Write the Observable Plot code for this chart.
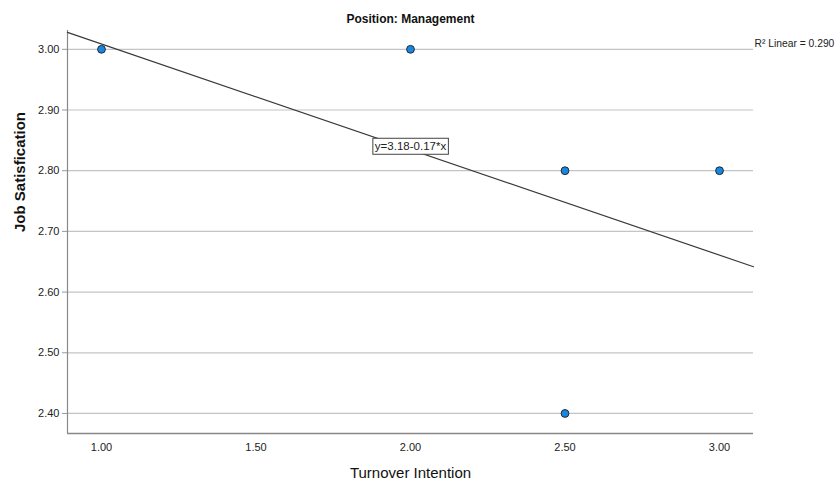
<!DOCTYPE html>
<html>
<head>
<meta charset="utf-8">
<script src="https://cdn.jsdelivr.net/npm/d3@7"></script>
<script src="https://cdn.jsdelivr.net/npm/@observablehq/plot@0.6"></script>
<style>
  html, body { margin: 0; padding: 0; background: #fff; }
  svg { font-family: "Liberation Sans", Arial, sans-serif; }
</style>
</head>
<body>
<div id="chart"></div>
<script>
// Data
const turnover = [1.0, 2.0, 2.5, 2.5, 3.0];
const satisfaction = [3.0, 3.0, 2.8, 2.4, 2.8];
const xTicks = [1.0, 1.5, 2.0, 2.5, 3.0];
const yTicks = [2.4, 2.5, 2.6, 2.7, 2.8, 2.9, 3.0];
const xDomain = [0.89, 3.11];
const yDomain = [2.367, 3.031];
const titleText = "Position: Management";
const xLabel = "Turnover Intention";
const yLabel = "Job Satisfication";

const points = turnover.map((x, i) => ({x, y: satisfaction[i]}));

// least squares fit
const mx = d3.mean(turnover), my = d3.mean(satisfaction);
const sxy = d3.sum(points, d => (d.x - mx) * (d.y - my));
const sxx = d3.sum(points, d => (d.x - mx) ** 2);
const syy = d3.sum(points, d => (d.y - my) ** 2);
const slope = sxy / sxx;
const intercept = my - slope * mx;
const r2 = (sxy * sxy) / (sxx * syy);
const fitLine = xDomain.map(x => ({x, y: intercept + slope * x}));
const eqLabel = [{x: mx - 0.2, y: intercept + slope * (mx - 0.2),
  text: `y=${intercept.toFixed(2)}-${Math.abs(slope).toFixed(2)}*x`}];

const chart = Plot.plot({
  width: 838,
  height: 484,
  marginLeft: 67,
  marginRight: 85,
  marginTop: 30,
  marginBottom: 51,
  style: {fontFamily: "Liberation Sans, Arial, sans-serif", fontSize: "11px", color: "#222", background: "#fff"},
  x: {domain: xDomain},
  y: {domain: yDomain},
  marks: [
    Plot.ruleY(yTicks, {stroke: "#c4c4c4", strokeWidth: 1.2}),
    Plot.axisY({ticks: yTicks, tickFormat: d3.format(".2f"), tickSize: 5, tickPadding: 3, stroke: "#999", label: null, fontSize: 11, fill: "#222"}),
    Plot.axisX({ticks: xTicks, tickFormat: d3.format(".2f"), tickSize: 0, tickPadding: 10, label: null, fontSize: 11, fill: "#222"}),
    Plot.ruleX([xDomain[0]], {stroke: "#888", strokeWidth: 1.2}),
    Plot.ruleY([yDomain[0]], {stroke: "#888", strokeWidth: 1.5}),
    Plot.line(fitLine, {x: "x", y: "y", stroke: "#3a3a3a", strokeWidth: 1.2}),
    Plot.dot(points, {x: "x", y: "y", r: 3.9, fill: "#1a87dc", stroke: "#1d2a3a", strokeWidth: 1}),
    Plot.text(eqLabel, {x: "x", y: "y", text: "text", fontSize: 11.5, fill: "#222", dy: -3, className: "eqlabel"}),
    Plot.text([titleText], {frameAnchor: "top", dy: -16, fontSize: 12, fontWeight: "bold", fill: "#111"}),
    Plot.text([`R\u00B2 Linear = ${r2.toFixed(3)}`], {frameAnchor: "top-right", dx: 1, dy: 9, textAnchor: "start", fontSize: 10.3, fill: "#222"}),
    Plot.text([xLabel], {frameAnchor: "bottom", dy: 44, fontSize: 15, fill: "#111"}),
    Plot.text([yLabel], {frameAnchor: "left", dx: -47, rotate: -90, fontSize: 15, fontWeight: "bold", fill: "#111"})
  ]
});
document.getElementById("chart").appendChild(chart);

// box around equation label
d3.select(chart).selectAll("g.eqlabel text").each(function() {
  const bb = this.getBBox();
  d3.select(this.parentNode).insert("rect", "text")
    .attr("transform", this.getAttribute("transform"))
    .attr("x", bb.x - 2).attr("y", bb.y - 2)
    .attr("width", bb.width + 4).attr("height", bb.height + 4)
    .attr("fill", "#fff").attr("stroke", "#444").attr("stroke-width", 1);
});
</script>
</body>
</html>
